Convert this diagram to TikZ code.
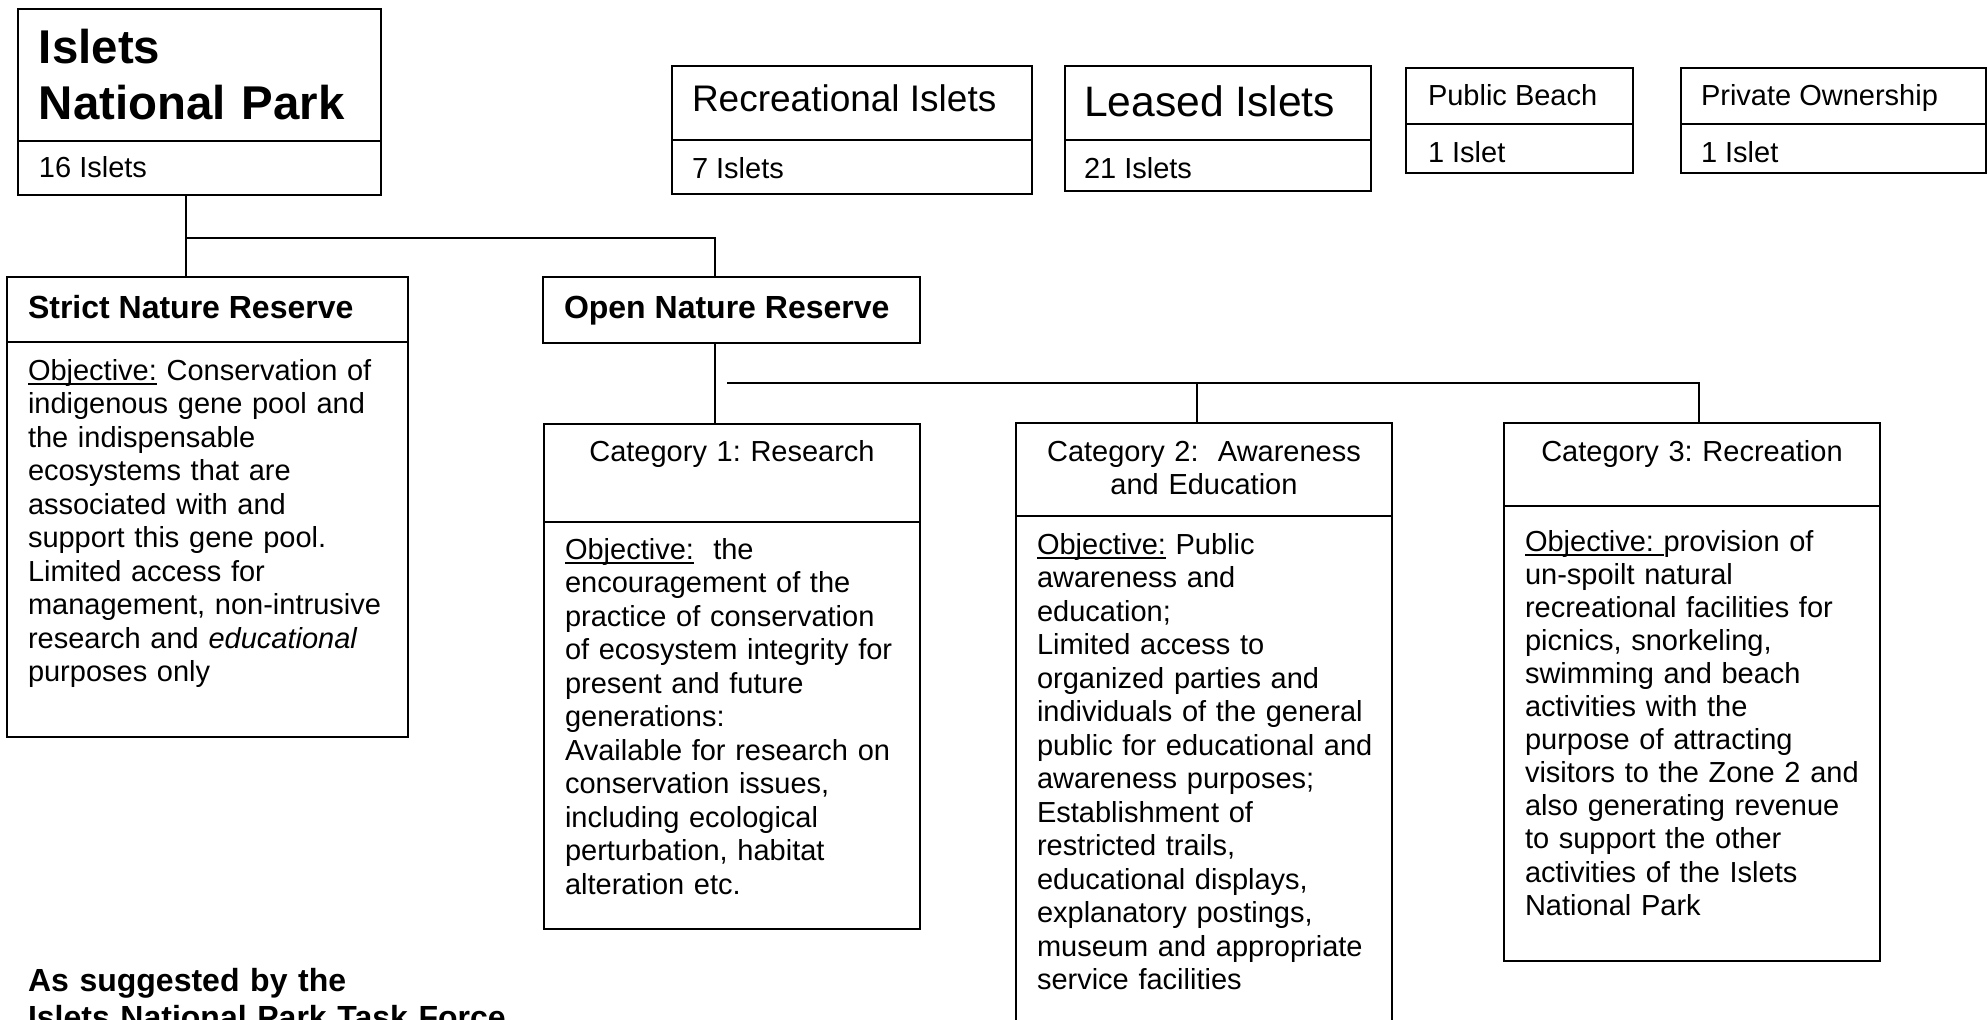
\documentclass[tikz,border=0pt]{standalone}
\usepackage{fontspec}
\setmainfont{Liberation Sans}

% underline set just below the baseline, crossing descenders
\newcommand\objline[1]{\setbox0\hbox{#1}\rlap{\vrule height -1.3pt depth 2.5pt width \wd0}\box0\relax}

% framed box given by its corners (x1,y1) and (x2,y2), in pixel units
\newcommand\zonebox[5]{%
  \pgfmathsetmacro\zbw{(#4-#2)/2}%
  \pgfmathsetmacro\zbh{(#5-#3)/2}%
  \node[frame, minimum width=\zbw pt, minimum height=\zbh pt] (#1) at (#2,#3) {};}

\tikzset{
  frame/.style={draw=black, line width=1pt, rectangle, inner sep=0pt, outer sep=0pt, anchor=north west},
  link/.style={draw=black, line width=1pt},
  txt/.style={inner sep=0pt, outer sep=0pt, anchor=base west, font=\fontsize{14.5}{16.75}\selectfont},
  para/.style={txt, text width=190pt, align=left},
  headtxt/.style={txt, font=\bfseries\fontsize{16}{18.4}\selectfont},
  cathead/.style={inner sep=0pt, outer sep=0pt, anchor=base, text width=170pt, align=center,
    font=\fontsize{14.5}{16.75}\selectfont},
}

\begin{document}
\frenchspacing
\begin{tikzpicture}[x=0.5pt, y=-0.5pt]
\useasboundingbox (0,0) rectangle (1988,1019);
\fill[white] (0,0) rectangle (1988,1019);

% ---- top row ----
\zonebox{parkH}{18}{9}{381}{141}
\zonebox{parkC}{18}{141}{381}{195}
\node[txt, text width=170pt, align=left, font=\bfseries\fontsize{23.7}{28.35}\selectfont] (parkT) at (39,63) {Islets\\National Park};
\node[txt] (parkN) at (39,177) {16 Islets};

\zonebox{recH}{672}{66}{1032}{140}
\zonebox{recC}{672}{140}{1032}{194}
\node[txt, font=\fontsize{18.5}{21}\selectfont] (recT) at (692,111) {Recreational Islets};
\node[txt] (recN) at (692,178) {7 Islets};

\zonebox{leaH}{1065}{66}{1371}{140}
\zonebox{leaC}{1065}{140}{1371}{191}
\node[txt, font=\fontsize{21.3}{24}\selectfont] (leaT) at (1084,116) {Leased Islets};
\node[txt] (leaN) at (1084,178) {21 Islets};

\zonebox{pubH}{1406}{68}{1633}{124}
\zonebox{pubC}{1406}{124}{1633}{173}
\node[txt] (pubT) at (1428,105) {Public Beach};
\node[txt] (pubN) at (1428,162) {1 Islet};

\zonebox{priH}{1681}{68}{1986}{124}
\zonebox{priC}{1681}{124}{1986}{173}
\node[txt] (priT) at (1701,105) {Private Ownership};
\node[txt] (priN) at (1701,162) {1 Islet};

% ---- reserves ----
\zonebox{strictH}{7}{277}{408}{342}
\zonebox{strictB}{7}{342}{408}{737}
\node[headtxt] (strictT) at (28,318) {Strict Nature Reserve};
\node[para] (strictP) at (28,380) {\objline{Objective:} Conservation of\\
indigenous gene pool and\\
the indispensable\\
ecosystems that are\\
associated with and\\
support this gene pool.\\
Limited access for\\
management, non-intrusive\\
research and \textit{educational}\\
purposes only};

\zonebox{openH}{543}{277}{920}{343}
\node[headtxt] (openT) at (564,318) {Open Nature Reserve};

% ---- categories ----
\zonebox{cat1H}{544}{424}{920}{522}
\zonebox{cat1B}{544}{522}{920}{929}
\node[cathead] (cat1T) at (732,461) {Category 1: Research};
\node[para] (cat1P) at (565,559) {\objline{Objective:}~ the\\
encouragement of the\\
practice of conservation\\
of ecosystem integrity for\\
present and future\\
generations:\\
Available for research on\\
conservation issues,\\
including ecological\\
perturbation, habitat\\
alteration etc.};

\zonebox{cat2H}{1016}{423}{1392}{516}
\zonebox{cat2B}{1016}{516}{1392}{1040}
\node[cathead] (cat2T) at (1204,461) {Category 2:~ Awareness\\and Education};
\node[para] (cat2P) at (1037,554) {\objline{Objective:} Public\\
awareness and\\
education;\\
Limited access to\\
organized parties and\\
individuals of the general\\
public for educational and\\
awareness purposes;\\
Establishment of\\
restricted trails,\\
educational displays,\\
explanatory postings,\\
museum and appropriate\\
service facilities};

\zonebox{cat3H}{1504}{423}{1880}{506}
\zonebox{cat3B}{1504}{506}{1880}{961}
\node[cathead] (cat3T) at (1692,461) {Category 3: Recreation};
\node[para, font=\fontsize{14.5}{16.55}\selectfont] (cat3P) at (1525,551) {\objline{Objective: }provision of\\
un-spoilt natural\\
recreational facilities for\\
picnics, snorkeling,\\
swimming and beach\\
activities with the\\
purpose of attracting\\
visitors to the Zone 2 and\\
also generating revenue\\
to support the other\\
activities of the Islets\\
National Park};

% ---- footnote ----
\node[txt, text width=300pt, align=left, font=\bfseries\fontsize{16}{18.5}\selectfont] (note) at (28,991) {As suggested by the\\Islets National Park Task Force};

% ---- connectors ----
\coordinate (jA) at (186,238);
\coordinate (jB) at (715,238);
\coordinate (jC) at (727,383);
\coordinate (jD) at (1197,383);
\coordinate (jE) at (1699,383);

\draw[link] (parkC.south -| jA) -- (strictH.north -| jA);
\draw[link] (jA) -- (jB) -- (openH.north -| jB);
\draw[link] (openH.south -| jB) -- (cat1H.north -| jB);
\draw[link] (jC) -- (jE) -- (cat3H.north -| jE);
\draw[link] (jD) -- (cat2H.north -| jD);
\end{tikzpicture}
\end{document}
